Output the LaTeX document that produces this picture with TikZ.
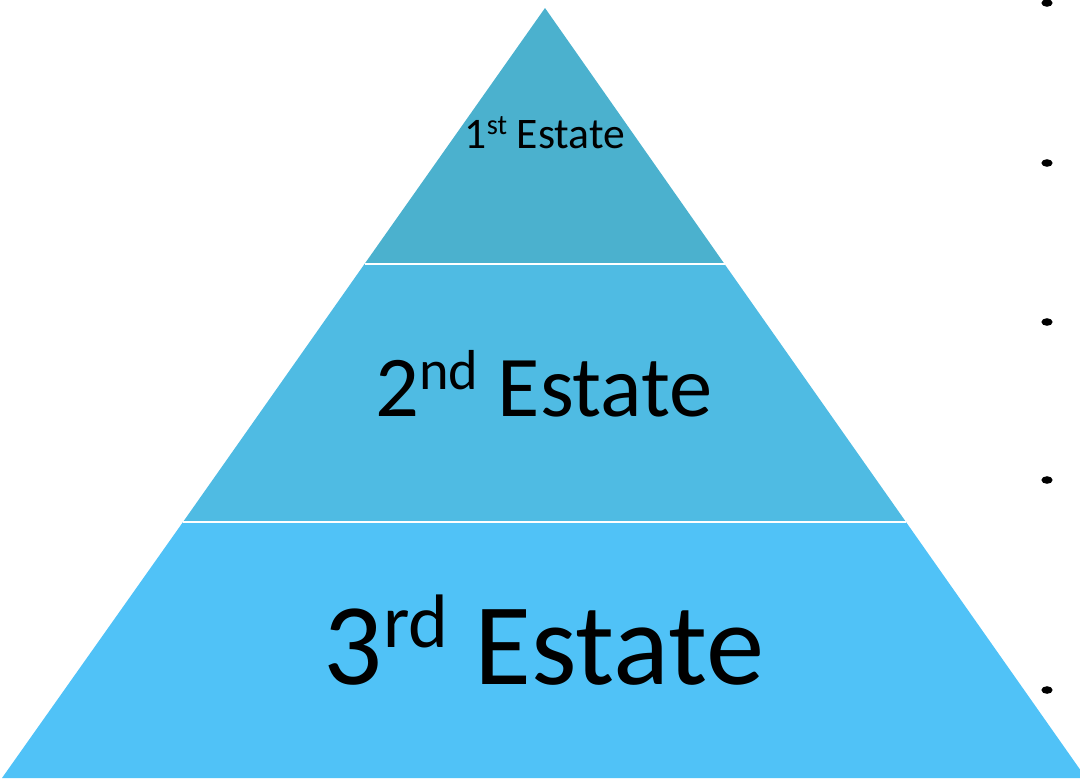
\documentclass[tikz,border=0pt]{standalone}
\usepackage{fontspec}
\usepackage{graphicx}
\setmainfont{Carlito}
\definecolor{topblue}{RGB}{75,177,206}
\definecolor{midblue}{RGB}{79,187,227}
\definecolor{lowblue}{RGB}{80,194,247}
\newcommand{\upord}[1]{\raisebox{0.31em}{\scalebox{0.65}{#1}}}
\begin{document}
\begin{tikzpicture}[x=0.5pt, y=-0.5pt,
		label/.style = {anchor=base, inner sep=0pt, text=black},
		sep/.style = {draw=white, line width=1pt}]
			\useasboundingbox (0,0) rectangle (1080,778);
			\coordinate (apex) at (545,8);
			\coordinate (l1) at (364.5,264);
			\coordinate (r1) at (724.5,264);
			\coordinate (l2) at (183,522);
			\coordinate (r2) at (906,522);
			\coordinate (l3) at (2,778);
			\coordinate (r3) at (1086,778);

			\fill[topblue] (apex) -- (r1) -- (l1) -- cycle;
			\fill[midblue] (l1) -- (r1) -- (r2) -- (l2) -- cycle;
			\fill[lowblue] (l2) -- (r2) -- (r3) -- (l3) -- cycle;
			\draw[sep] (l1) -- (r1);
			\draw[sep] (l2) -- (r2);

			\node[label, font=\fontsize{21.8}{26}\selectfont] (first) at (545,148) {1\upord{st} Estate};
			\node[label, font=\fontsize{43.3}{52}\selectfont] (second) at (544,416) {2\upord{nd} Estate};
			\node[label, font=\fontsize{58.3}{70}\selectfont] (third) at (544,684) {3\upord{rd} Estate};

			\foreach \y in {3,163,322,480,690}
				\fill (1047,\y) ellipse [x radius=2.8pt, y radius=1.9pt];
		\end{tikzpicture}
\end{document}
